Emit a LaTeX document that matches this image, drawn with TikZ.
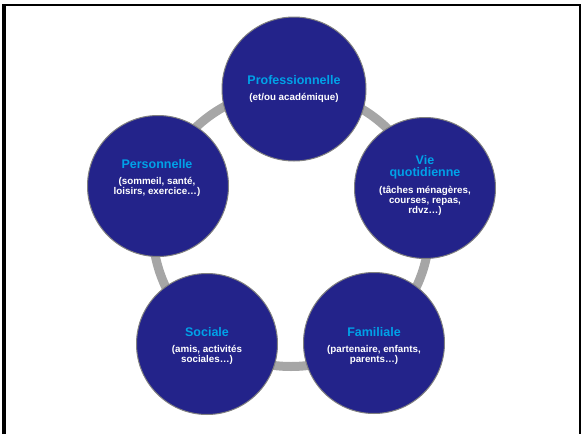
\documentclass[tikz,border=0pt]{standalone}
\usepackage{fontspec}
\setmainfont{Liberation Sans}
\definecolor{hubfill}{RGB}{35,35,138}
\definecolor{hubedge}{RGB}{128,128,128}
\definecolor{ringgray}{RGB}{166,166,166}
\definecolor{headblue}{RGB}{0,162,232}
\begin{document}
\begin{tikzpicture}[x=1pt,y=-1pt,
  hub/.style={circle, draw=hubedge, line width=1pt, fill=hubfill,
              minimum size=141pt, inner sep=0pt},
  heading/.style={text=headblue, align=center, inner sep=0pt,
                  font=\bfseries\fontsize{12.5}{11.5}\selectfont},
  detail/.style={text=white, align=center, inner sep=0pt,
                 font=\bfseries\fontsize{9.8}{10}\selectfont},
  ring/.style={draw=ringgray, line width=9pt},
  frame/.style={draw=black}]
  \useasboundingbox (0,0) rectangle (581,434);

  % page frame (open at the bottom)
  \draw[frame, line width=4pt] (4,434) -- (4,4);
  \draw[frame, line width=2.5pt] (2,5.2) -- (581,5.2);
  \draw[frame, line width=2pt] (580,4) -- (580,434);

  % ring linking the five domains
  \coordinate (mid) at (291,228);
  \draw[ring] (mid) circle[radius=138.5pt];

  % the five domains
  \node[hub, minimum size=144pt] (pro) at (294,89) {};
  \node[hub] (vie) at (425,188) {};
  \node[hub] (fam) at (374,343) {};
  \node[hub] (soc) at (207,344) {};
  \node[hub] (per) at (158,186) {};

  % labels
  \node[heading] (proT) at (294,80) {Professionnelle};
  \node[detail]  (proD) at (294,98) {(et/ou académique)};

  \node[heading] (vieT) at (425,167.5) {Vie\\quotidienne};
  \node[detail]  (vieD) at (425,201) {(tâches ménagères,\\courses, repas,\\rdvz\ldots)};

  \node[heading] (famT) at (374,332) {Familiale};
  \node[detail]  (famD) at (374,354.5) {(partenaire, enfants,\\parents\ldots)};

  \node[heading] (socT) at (207,332) {Sociale};
  \node[detail]  (socD) at (207,354.5) {(amis, activités\\sociales\ldots)};

  \node[heading] (perT) at (157,164) {Personnelle};
  \node[detail]  (perD) at (157,186.5) {(sommeil, santé,\\loisirs, exercice\ldots)};
\end{tikzpicture}
\end{document}
